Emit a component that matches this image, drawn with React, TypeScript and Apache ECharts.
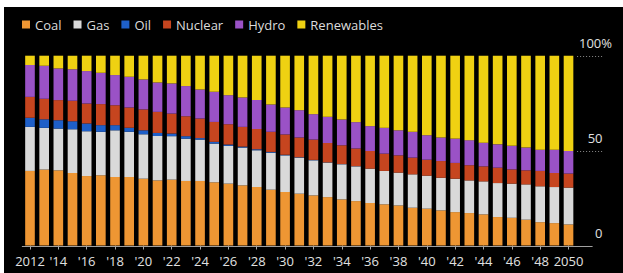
import React, { useEffect, useRef } from "react";
import * as echarts from "echarts";

const years = [
  "2012", "2013", "2014", "2015", "2016", "2017", "2018", "2019", "2020", "2021",
  "2022", "2023", "2024", "2025", "2026", "2027", "2028", "2029", "2030", "2031",
  "2032", "2033", "2034", "2035", "2036", "2037", "2038", "2039", "2040", "2041",
  "2042", "2043", "2044", "2045", "2046", "2047", "2048", "2049", "2050",
];

const tickLabels = [
  "2012", "'14", "'16", "'18", "'20", "'22", "'24", "'26", "'28", "'30",
  "'32", "'34", "'36", "'38", "'40", "'42", "'44", "'46", "'48", "2050",
];

const coal = [39.3, 40.0, 39.6, 38.2, 36.6, 37.0, 36.1, 36.1, 35.2, 34.3, 34.7, 34.0, 34.0, 33.3, 32.6, 31.7, 30.8, 29.4, 28.2, 27.3, 26.4, 25.5, 24.3, 23.4, 22.4, 21.7, 21.1, 19.9, 19.4, 18.5, 17.6, 17.1, 16.4, 15.0, 14.6, 13.6, 12.3, 11.8, 11.1];
const gas = [23.2, 22.0, 22.0, 23.1, 23.6, 22.9, 24.6, 23.8, 23.4, 23.4, 22.9, 22.3, 21.8, 20.4, 19.9, 19.9, 19.4, 19.5, 19.3, 19.0, 18.5, 18.2, 18.5, 18.3, 18.1, 17.6, 17.3, 17.6, 17.4, 17.2, 17.6, 17.2, 17.4, 17.9, 18.0, 18.6, 18.9, 19.0, 19.4];
const oil = [4.8, 4.5, 4.4, 4.2, 4.1, 3.5, 2.7, 2.2, 2.1, 1.6, 1.4, 1.3, 0.8, 0.9, 0.7, 0.5, 0.5, 0.4, 0.3, 0.2, 0.2, 0.1, 0.1, 0.1, 0, 0, 0, 0, 0, 0, 0, 0, 0, 0, 0, 0, 0, 0, 0];
const nuclear = [11.0, 10.8, 10.6, 10.7, 10.5, 11.1, 10.5, 10.6, 11.0, 11.1, 10.5, 10.5, 10.3, 10.5, 10.7, 10.4, 10.7, 10.6, 10.7, 10.4, 10.7, 10.2, 9.9, 9.3, 9.3, 9.1, 9.1, 8.8, 8.4, 8.8, 8.3, 8.0, 7.9, 8.1, 7.5, 7.4, 8.1, 7.4, 7.4];
const hydro = [16.8, 17.4, 16.7, 16.6, 17.1, 16.5, 15.9, 16.2, 15.8, 15.5, 15.9, 15.9, 15.3, 15.9, 15.3, 15.5, 15.2, 14.4, 14.2, 14.4, 13.4, 13.8, 13.6, 13.9, 13.1, 13.6, 13.2, 13.6, 12.9, 12.4, 12.8, 13.2, 12.5, 12.3, 12.4, 12.0, 11.2, 12.3, 11.9];
const renewables = [4.9, 5.3, 6.7, 7.2, 8.1, 9.0, 10.2, 11.1, 12.5, 14.1, 14.6, 16.0, 17.8, 19.0, 20.8, 22.0, 23.4, 25.7, 27.3, 28.7, 30.8, 32.2, 33.6, 35.0, 37.1, 38.0, 39.3, 40.1, 41.9, 43.1, 43.7, 44.5, 45.8, 46.7, 47.5, 48.4, 49.5, 49.5, 50.2];

const yTicks = [0, 50, 100];

const seriesDefs = [
  { name: "Coal", data: coal, color: "#EE9633" },
  { name: "Gas", data: gas, color: "#D9D9D9" },
  { name: "Oil", data: oil, color: "#1E5FC8" },
  { name: "Nuclear", data: nuclear, color: "#C6451F" },
  { name: "Hydro", data: hydro, color: "#9A52C6" },
  { name: "Renewables", data: renewables, color: "#EFD112" },
];

const FONT = "'Open Sans', 'DejaVu Sans', sans-serif";
const W = 619;
const H = 266;

export default function App() {
  const ref = useRef<HTMLDivElement>(null);

  useEffect(() => {
    if (!ref.current) return;
    const chart = echarts.init(ref.current, null, { renderer: "svg" });
    const grid = { left: 18.9, right: 47.4, top: 48.7, bottom: 27.5 };
    chart.setOption({
      animation: false,
      backgroundColor: "#000",
      grid: { ...grid, containLabel: false },
      legend: {
        left: 13,
        top: 6,
        icon: "rect",
        itemWidth: 8,
        itemHeight: 8,
        itemGap: 12,
        textStyle: { color: "#dcdcdc", fontSize: 13, fontFamily: FONT },
        data: seriesDefs.map((s) => s.name),
      },
      xAxis: {
        type: "category",
        data: years,
        boundaryGap: true,
        axisLine: { show: false },
        axisTick: {
          show: true,
          alignWithLabel: true,
          interval: 1,
          length: 4,
          lineStyle: { color: "#a8a8a8" },
        },
        axisLabel: {
          interval: 1,
          margin: 9,
          color: "#e0e0e0",
          fontSize: 13,
          fontFamily: FONT,
          formatter: (_v: string, idx: number) => tickLabels[Math.round(idx / 2)] ?? "",
        },
        splitLine: { show: false },
      },
      yAxis: {
        type: "value",
        position: "right",
        min: 0,
        max: 100,
        interval: 50,
        axisLine: { show: false },
        axisTick: { show: false },
        splitLine: { show: false },
        axisLabel: {
          align: "right",
          verticalAlign: "bottom",
          margin: 36.4,
          padding: [0, 0, 6, 0],
          color: "#e0e0e0",
          fontSize: 13,
          fontFamily: FONT,
          formatter: (v: number) => (v === yTicks[2] ? v + "%" : v + "{s| }"),
          rich: { s: { width: 9.5, fontSize: 13 } },
        },
      },
      series: seriesDefs.map((s) => ({
        name: s.name,
        type: "bar",
        stack: "total",
        barWidth: "68%",
        data: s.data,
        itemStyle: { color: s.color },
      })),
    });

    const yPix = (v: number) => Math.round(chart.convertToPixel({ yAxisIndex: 0 }, v) as number) + 0.5;
    const gridLeft = grid.left;
    const gridRight = W - grid.right;
    const graphics: any[] = [
      {
        type: "line",
        z: 50,
        shape: { x1: gridLeft - 1, y1: yPix(0), x2: gridRight + 17, y2: yPix(0) },
        style: { stroke: "#a0a0a0", lineWidth: 1 },
      },
    ];
    yTicks.slice(1).forEach((v) => {
      graphics.push({
        type: "line",
        z: 50,
        shape: { x1: gridRight + 1.5, y1: yPix(v), x2: gridRight + 27.5, y2: yPix(v) },
        style: { stroke: "#8a8a8a", lineWidth: 1, lineDash: [1, 2] },
      });
    });
    chart.setOption({ graphic: graphics });

    return () => chart.dispose();
  }, []);

  return (
    <div
      ref={ref}
      style={{ position: "fixed", left: 4, top: 7, width: W, height: H, background: "#000" }}
    />
  );
}
